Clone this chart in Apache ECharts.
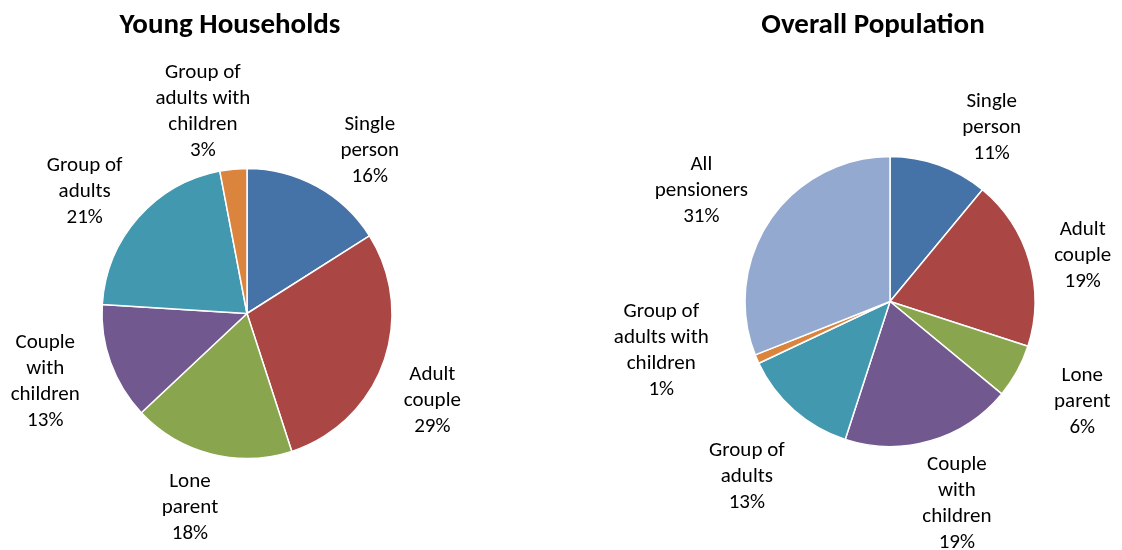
<!DOCTYPE html>
<html>
<head>
<meta charset="utf-8">
<script src="https://cdn.jsdelivr.net/npm/echarts@6/dist/echarts.min.js"></script>
<style>
html,body{margin:0;padding:0;background:#fff;}
#chart{width:1122px;height:550px;}
</style>
</head>
<body>
<div id="chart"></div>
<script>
// Data
var youngCategories = ['Single\nperson', 'Adult\ncouple', 'Lone\nparent', 'Couple\nwith\nchildren', 'Group of\nadults', 'Group of\nadults with\nchildren'];
var youngValues = [16, 29, 18, 13, 21, 3];
var overallCategories = ['Single\nperson', 'Adult\ncouple', 'Lone\nparent', 'Couple\nwith\nchildren', 'Group of\nadults', 'Group of\nadults with\nchildren', 'All\npensioners'];
var overallValues = [11, 19, 6, 19, 13, 1, 31];
var titles = ['Young Households', 'Overall Population'];

// Label placement (angle shift from slice middle in degrees, distance from pie centre in px)
var youngLabelShift = [8.2, 5.5, 2.0, 1.1, -4.5, -6.9];
var youngLabelDist = [204, 205, 202, 213, 203, 207];
var overallLabelShift = [10.6, 2.9, -1.2, -2.1, -2.1, 11.2, -3.7];
var overallLabelDist = [201, 198, 217, 213, 226, 234, 219];

var colors = ['#4572A7', '#AA4643', '#89A54E', '#71588F', '#4198AF', '#DB843D', '#93A9CF'];
var FONT = 'Carlito, Calibri, Lato, "Open Sans", sans-serif';

var pies = [
  { cats: youngCategories, vals: youngValues, center: [247, 313.5], r: 145, shift: youngLabelShift, dist: youngLabelDist },
  { cats: overallCategories, vals: overallValues, center: [890, 301.5], r: 145, shift: overallLabelShift, dist: overallLabelDist }
];

function makeLayout(p) {
  return function (params) {
    var total = 0, before = 0, k = params.dataIndex;
    for (var i = 0; i < p.vals.length; i++) {
      total += p.vals[i];
      if (i < k) before += p.vals[i];
    }
    var mid = (before + p.vals[k] / 2) / total * Math.PI * 2 + p.shift[k] * Math.PI / 180;
    return {
      x: p.center[0] + p.dist[k] * Math.sin(mid),
      y: p.center[1] - p.dist[k] * Math.cos(mid),
      align: 'center',
      verticalAlign: 'middle'
    };
  };
}

var series = pies.map(function (p) {
  return {
    type: 'pie',
    center: p.center,
    radius: p.r,
    startAngle: 90,
    clockwise: true,
    avoidLabelOverlap: false,
    animation: false,
    itemStyle: { borderColor: '#ffffff', borderWidth: 1.5 },
    label: {
      show: true,
      position: 'outside',
      formatter: function (d) { return d.name + '\n' + d.value + '%'; },
      fontFamily: FONT,
      fontSize: 21,
      lineHeight: 26,
      color: '#000',
      align: 'center'
    },
    labelLine: { show: false },
    labelLayout: makeLayout(p),
    emphasis: { disabled: true },
    data: p.cats.map(function (c, i) {
      return { name: c, value: p.vals[i], itemStyle: { color: colors[i] } };
    })
  };
});

var chart = echarts.init(document.getElementById('chart'), null, { renderer: 'canvas' });
chart.setOption({
  backgroundColor: '#ffffff',
  animation: false,
  title: [
    { text: titles[0], left: 225, top: 6, textAlign: 'center',
      textStyle: { fontFamily: FONT, fontSize: 29, fontWeight: 'bold', color: '#000' } },
    { text: titles[1], left: 868, top: 6, textAlign: 'center',
      textStyle: { fontFamily: FONT, fontSize: 29, fontWeight: 'bold', color: '#000' } }
  ],
  series: series
});
</script>
</body>
</html>
